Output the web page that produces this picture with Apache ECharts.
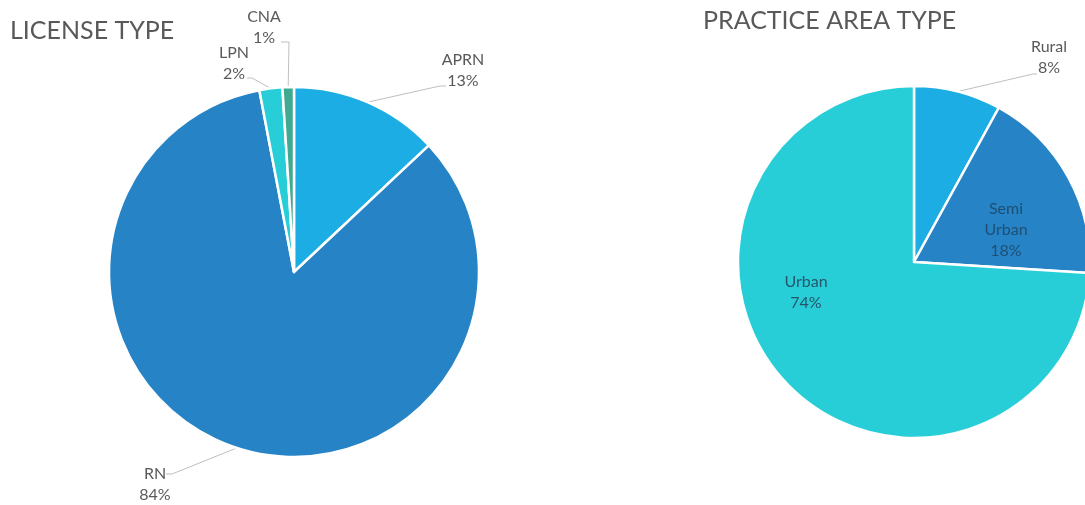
<!DOCTYPE html>
<html>
<head>
<meta charset="utf-8">
<script src="https://cdn.jsdelivr.net/npm/echarts@6/dist/echarts.min.js"></script>
<style>
  html, body { margin: 0; padding: 0; background: #fff; }
  #chart { width: 1085px; height: 505px; }
</style>
</head>
<body>
<div id="chart"></div>
<script>
// License type breakdown (percent)
const licenseNames = ['APRN', 'RN', 'LPN', 'CNA'];
const licenseValues = [13, 84, 2, 1];
const licenseColors = ['#1CADE4', '#2683C6', '#27CED7', '#3FAA90'];

// Practice area breakdown (percent)
const practiceNames = ['Rural', 'Semi Urban', 'Urban'];
const practiceValues = [8, 18, 74];
const practiceColors = ['#1CADE4', '#2683C6', '#27CED7'];

const FONT = 'Lato, "Open Sans", sans-serif';
const GREY = '#595959';

function labelText(p) {
  return p.name.replace(' ', '\n') + '\n' + p.value + '%';
}

// Label anchor (center of text block) and guide-line bend/end points
const licenseLabelSpots = [
  { c: [463, 70], bend: [440, 86], end: [446, 86] },
  { c: [155, 484], bend: [172, 474], end: [166, 474] },
  { c: [234, 63], bend: [252, 78], end: [247, 78] },
  { c: [264, 27], bend: [289, 42], end: [281, 42] }
];
const practiceLabelSpots = [
  { c: [1049, 57], bend: [1033, 74], end: [1037, 74] },
  { c: [1006, 230] },
  { c: [806, 292] }
];

function makeLayout(spots) {
  return function (params) {
    const s = spots[params.dataIndex];
    const out = {
      x: s.c[0],
      y: s.c[1],
      align: 'center',
      verticalAlign: 'middle'
    };
    if (s.bend && params.labelLinePoints) {
      out.labelLinePoints = [params.labelLinePoints[0], s.bend, s.end];
    }
    return out;
  };
}

const chart = echarts.init(document.getElementById('chart'), null, { renderer: 'canvas' });

chart.setOption({
  animation: false,
  title: [
    {
      text: 'LICENSE TYPE', left: 5, top: 13,
      textStyle: { fontFamily: FONT, fontSize: 25, fontWeight: 'normal', color: GREY }
    },
    {
      text: 'PRACTICE AREA TYPE', left: 698, top: 3,
      textStyle: { fontFamily: FONT, fontSize: 25, fontWeight: 'normal', color: GREY }
    }
  ],
  series: [
    {
      type: 'pie',
      center: [294, 272],
      radius: 185,
      startAngle: 90,
      clockwise: true,
      avoidLabelOverlap: false,
      itemStyle: { borderColor: '#fff', borderWidth: 2.5 },
      label: {
        show: true,
        position: 'outside',
        formatter: labelText,
        fontFamily: FONT,
        fontSize: 16,
        lineHeight: 21,
        color: GREY
      },
      labelLine: { show: true, length: 15, length2: 10, lineStyle: { color: '#BFBFBF', width: 1 } },
      labelLayout: makeLayout(licenseLabelSpots),
      data: licenseNames.map((n, i) => ({
        name: n, value: licenseValues[i], itemStyle: { color: licenseColors[i] }
      }))
    },
    {
      type: 'pie',
      center: [914, 262],
      radius: 176,
      startAngle: 90,
      clockwise: true,
      avoidLabelOverlap: false,
      itemStyle: { borderColor: '#fff', borderWidth: 2.5 },
      label: {
        show: true,
        formatter: labelText,
        fontFamily: FONT,
        fontSize: 16,
        lineHeight: 21,
        color: GREY
      },
      labelLine: { show: true, length: 15, length2: 10, lineStyle: { color: '#BFBFBF', width: 1 } },
      labelLayout: makeLayout(practiceLabelSpots),
      data: practiceNames.map((n, i) => {
        const d = { name: n, value: practiceValues[i], itemStyle: { color: practiceColors[i] } };
        if (i > 0) {
          d.label = { position: 'inside', color: i === 1 ? '#1E4F73' : '#27566B' };
          d.labelLine = { show: false };
        } else {
          d.label = { position: 'outside' };
        }
        return d;
      })
    }
  ]
});
</script>
</body>
</html>
